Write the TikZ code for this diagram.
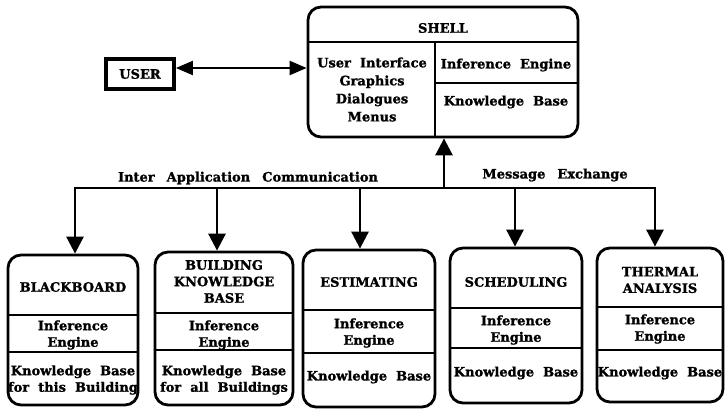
\documentclass[tikz,border=0pt]{standalone}
\usepackage{fontspec}
\setmainfont{DejaVu Serif}[WordSpace=2, BoldFeatures={FakeBold=1.2}]
\usetikzlibrary{arrows.meta}
\begin{document}
\begin{tikzpicture}[x=1pt,y=-1pt,
  lbl/.style={font=\bfseries\fontsize{13}{16.5}\selectfont, align=center, inner sep=0pt},
  rbox/.style={draw, line width=2.8pt, rounded corners=13pt, inner sep=0pt},
  div/.style={line width=1.7pt},
  tip/.tip={Triangle[length=17pt,width=17pt]},
  htip/.tip={Triangle[length=17pt,width=14pt]},
  arr/.style={line width=2.8pt, -tip},
  bus/.style={line width=2.8pt, line cap=rect},
]
\useasboundingbox (0,0) rectangle (725,409);

% ---------- shell ----------
\node[rbox, minimum width=270pt, minimum height=130pt] (shell) at (443,72) {};
\draw[div] (shell.west |- 0,42) -- (shell.east |- 0,42);
\draw[div] (435,42) -- (shell.south -| 435,0);
\draw[div] (435,83) -- (shell.east |- 0,83);
\node[lbl] (shellt) at (443,28) {SHELL};
\node[lbl, font=\bfseries\fontsize{13}{18}\selectfont] (ui) at (372,89.5) {User Interface\\Graphics\\Dialogues\\Menus};
\node[lbl] (sie) at (506,65) {Inference Engine};
\node[lbl] (skb) at (506,102) {Knowledge Base};

% ---------- user ----------
\node[draw, line width=3.8pt, minimum width=68pt, minimum height=30pt, lbl] (user) at (140,74) {USER};
\draw[line width=2.2pt, htip-htip] (user.east |- 0,68) -- (shell.west |- 0,68);

% ---------- bottom boxes ----------
\node[rbox, minimum width=130pt, minimum height=150pt] (bb) at (73,330) {};
\node[rbox, minimum width=138pt, minimum height=153pt] (bkb) at (224,328.5) {};
\node[rbox, minimum width=132pt, minimum height=157pt] (est) at (369,328.5) {};
\node[rbox, minimum width=132pt, minimum height=155pt] (sch) at (516,325.5) {};
\node[rbox, minimum width=126pt, minimum height=154pt] (thm) at (660,325) {};

\draw[div] (bb.west |- 0,315) -- (bb.east |- 0,315);
\draw[div] (bb.west |- 0,352) -- (bb.east |- 0,352);
\draw[div] (bkb.west |- 0,313) -- (bkb.east |- 0,313);
\draw[div] (bkb.west |- 0,350) -- (bkb.east |- 0,350);
\draw[div] (est.west |- 0,310) -- (est.east |- 0,310);
\draw[div] (est.west |- 0,353) -- (est.east |- 0,353);
\draw[div] (sch.west |- 0,308) -- (sch.east |- 0,308);
\draw[div] (sch.west |- 0,348) -- (sch.east |- 0,348);
\draw[div] (thm.west |- 0,307) -- (thm.east |- 0,307);
\draw[div] (thm.west |- 0,350) -- (thm.east |- 0,350);

\node[lbl] (bbt) at (73,287) {BLACKBOARD};
\node[lbl] (bbie) at (73,335) {Inference\\Engine};
\node[lbl] (bbkb) at (73,380) {Knowledge Base\\for this Building};

\node[lbl] (bkbt) at (224,281.5) {BUILDING\\KNOWLEDGE\\BASE};
\node[lbl] (bkbie) at (224,335) {Inference\\Engine};
\node[lbl] (bkbkb) at (224,380) {Knowledge Base\\for all Buildings};

\node[lbl] (estt) at (369,282) {ESTIMATING};
\node[lbl] (estie) at (369,333) {Inference\\Engine};
\node[lbl] (estkb) at (369,377) {Knowledge Base};

\node[lbl] (scht) at (516,282) {SCHEDULING};
\node[lbl] (schie) at (516,330) {Inference\\Engine};
\node[lbl] (schkb) at (516,373) {Knowledge Base};

\node[lbl] (thmt) at (660,280) {THERMAL\\ANALYSIS};
\node[lbl] (thmie) at (660,329) {Inference\\Engine};
\node[lbl] (thmkb) at (660,373) {Knowledge Base};

% ---------- bus ----------
\coordinate (hub) at (444,188);
\coordinate (jbb) at (75,188);
\coordinate (jbkb) at (217,188);
\coordinate (jest) at (360,188);
\coordinate (jsch) at (515,188);
\coordinate (jthm) at (655,188);
\draw[bus] (jbb) -- (jthm);
\draw[arr] (hub) -- (hub |- shell.south);
\draw[arr] (jbb) -- (jbb |- bb.north);
\draw[arr] (jbkb) -- (jbkb |- bkb.north);
\draw[arr] (jest) -- (jest |- est.north);
\draw[arr] (jsch) -- (jsch |- sch.north);
\draw[arr] (jthm) -- (jthm |- thm.north);

\node[lbl] (iac) at (248,178) {Inter\hspace{12pt}Application\hspace{12pt}Communication};
\node[lbl] (mex) at (555,175) {Message\hspace{12pt}Exchange};
\end{tikzpicture}
\end{document}
